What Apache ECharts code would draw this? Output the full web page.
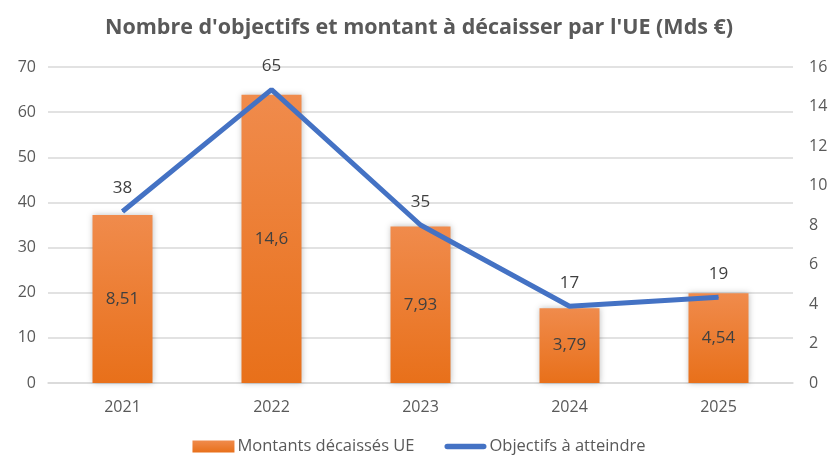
<!DOCTYPE html>
<html><head><meta charset="utf-8">
<script src="https://cdn.jsdelivr.net/npm/echarts@6/dist/echarts.min.js"></script>
<style>html,body{margin:0;padding:0;background:#fff}#c{width:838px;height:472px}</style>
</head><body><div id="c"></div>
<script>
const categories = ['2021','2022','2023','2024','2025'];
const montants = [8.51, 14.6, 7.93, 3.79, 4.54];
const objectifs = [38, 65, 35, 17, 19];
const leftTicks = {min:0, max:70, interval:10};
const rightTicks = {min:0, max:16, interval:2};

const chart = echarts.init(document.getElementById('c'));
const fmt = v => String(v).replace('.', ',');
const font = '"Open Sans", sans-serif';
chart.setOption({
  animation: false,
  title: {
    text: "Nombre d'objectifs et montant à décaisser par l'UE (Mds €)",
    left: 'center', top: 12,
    textStyle: {fontFamily: font, fontWeight: 'bold', fontSize: 21.5, color: '#595959'}
  },
  legend: {
    bottom: 12, left: 'center', itemGap: 30, itemWidth: 42, itemHeight: 12,
    textStyle: {fontFamily: font, fontSize: 16.5, color: '#595959', padding: [0,0,0,-2]},
    data: [
      {name:'Montants décaissés UE', icon:'rect'},
      {name:'Objectifs à atteindre', icon:'path://M3,0L42,0A3,3 0 0 1 42,6L3,6A3,3 0 0 1 3,0Z', itemStyle:{color:'#4472C4'}}
    ]
  },
  grid: {left: 48, right: 45, top: 67, bottom: 89, containLabel: false},
  xAxis: {
    type: 'category', data: categories,
    axisLine: {lineStyle: {color: '#D9D9D9', width: 1.5}},
    axisTick: {show: false},
    axisLabel: {fontFamily: font, fontSize: 16, color: '#595959', margin: 16}
  },
  yAxis: [
    {type: 'value', min: leftTicks.min, max: leftTicks.max, interval: leftTicks.interval,
     axisLine: {show: false}, axisTick: {show: false},
     splitLine: {lineStyle: {color: '#D9D9D9', width: 1.5}},
     axisLabel: {fontFamily: font, fontSize: 16, color: '#595959', margin: 12}},
    {type: 'value', min: rightTicks.min, max: rightTicks.max, interval: rightTicks.interval,
     axisLine: {show: false}, axisTick: {show: false}, splitLine: {show: false},
     axisLabel: {fontFamily: font, fontSize: 16, color: '#595959', margin: 16}}
  ],
  series: [
    {name: 'Montants décaissés UE', type: 'bar', yAxisIndex: 1, data: montants,
     barWidth: 60,
     itemStyle: {
       color: new echarts.graphic.LinearGradient(0,0,0,1,[{offset:0,color:'#F08B4C'},{offset:1,color:'#E8701A'}]),
       shadowColor: 'rgba(0,0,0,0.25)', shadowBlur: 6
     },
     label: {show: true, position: 'inside', formatter: p => fmt(p.value),
             fontFamily: font, fontSize: 17, color: '#404040'}},
    {name: 'Objectifs à atteindre', type: 'line', yAxisIndex: 0, data: objectifs,
     symbol: 'circle', symbolSize: 1, showSymbol: true, z: 5,
     lineStyle: {color: '#4472C4', width: 5},
     itemStyle: {color: '#4472C4'},
     label: {show: true, position: 'top', distance: 14, formatter: p => fmt(p.value),
             fontFamily: font, fontSize: 17, color: '#404040'}}
  ]
});
</script></body></html>
